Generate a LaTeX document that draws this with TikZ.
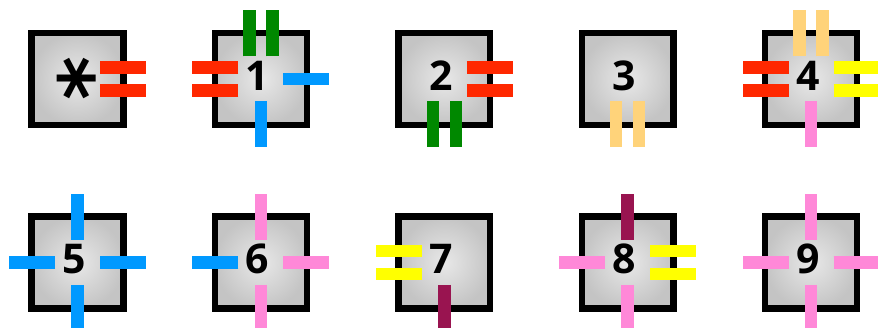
\documentclass[tikz,border=0pt]{standalone}
\usepackage{fontspec}
\setmainfont{Open Sans}
\newfontfamily\astfont{DejaVu Sans}
\usepackage{tikz}

\definecolor{cred}{RGB}{255,40,0}
\definecolor{cgreen}{RGB}{0,136,0}
\definecolor{cblue}{RGB}{0,153,255}
\definecolor{cpink}{RGB}{255,136,216}
\definecolor{cyellow}{RGB}{255,255,0}
\definecolor{corange}{RGB}{255,211,122}
\definecolor{cmaroon}{RGB}{153,20,80}

\begin{document}
\begin{tikzpicture}[x=1pt,y=1pt,every node/.style={font=\fontsize{41}{41}\selectfont\bfseries}]
\tikzset{cell/.style={rectangle,draw,line width=6.5pt,inner sep=0pt,minimum size=91.8pt,inner color=black!9,outer color=black!23},
  bar/.style={line width=12.5pt}}
\useasboundingbox (0,0) rectangle (878,328);

% ---------- top row ----------
\node[cell] (s) at (77.5,249) {};
\node[cell] (b1) at (260.9,249) {};
\node[cell] (b2) at (444.3,249) {};
\node[cell] (b3) at (627.7,249) {};
\node[cell] (b4) at (811.1,249) {};

\node[rotate=90] (ts) at (88,249.5) {\astfont\bfseries\fontsize{84}{84}\selectfont *};
\node (t1) at (257.6,252.5) {1};
\node (t2) at (441,252.5) {2};
\node (t3) at (624.4,252.5) {3};
\node (t4) at (807.8,252.5) {4};

% box *
\draw[bar,cred] ([xshift=22.5pt,yshift=11.5pt]s.center) -- ++(46,0);
\draw[bar,cred] ([xshift=22.5pt,yshift=-11.5pt]s.center) -- ++(46,0);

% box 1
\draw[bar,cgreen] ([xshift=-11.5pt,yshift=22.5pt]b1.center) -- ++(0,46);
\draw[bar,cgreen] ([xshift=11.5pt,yshift=22.5pt]b1.center) -- ++(0,46);
\draw[bar,cred] ([xshift=-22.5pt,yshift=11.5pt]b1.center) -- ++(-46,0);
\draw[bar,cred] ([xshift=-22.5pt,yshift=-11.5pt]b1.center) -- ++(-46,0);
\draw[bar,cblue] ([xshift=22.5pt]b1.center) -- ++(46,0);
\draw[bar,cblue] ([yshift=-22.5pt]b1.center) -- ++(0,-46);

% box 2
\draw[bar,cred] ([xshift=22.5pt,yshift=11.5pt]b2.center) -- ++(46,0);
\draw[bar,cred] ([xshift=22.5pt,yshift=-11.5pt]b2.center) -- ++(46,0);
\draw[bar,cgreen] ([xshift=-11.5pt,yshift=-22.5pt]b2.center) -- ++(0,-46);
\draw[bar,cgreen] ([xshift=11.5pt,yshift=-22.5pt]b2.center) -- ++(0,-46);

% box 3
\draw[bar,corange] ([xshift=-11.5pt,yshift=-22.5pt]b3.center) -- ++(0,-46);
\draw[bar,corange] ([xshift=11.5pt,yshift=-22.5pt]b3.center) -- ++(0,-46);

% box 4
\draw[bar,corange] ([xshift=-11.5pt,yshift=22.5pt]b4.center) -- ++(0,46);
\draw[bar,corange] ([xshift=11.5pt,yshift=22.5pt]b4.center) -- ++(0,46);
\draw[bar,cred] ([xshift=-22.5pt,yshift=11.5pt]b4.center) -- ++(-46,0);
\draw[bar,cred] ([xshift=-22.5pt,yshift=-11.5pt]b4.center) -- ++(-46,0);
\draw[bar,cyellow] ([xshift=22.5pt,yshift=11.5pt]b4.center) -- ++(46,0);
\draw[bar,cyellow] ([xshift=22.5pt,yshift=-11.5pt]b4.center) -- ++(46,0);
\draw[bar,cpink] ([yshift=-22.5pt]b4.center) -- ++(0,-46);

% ---------- bottom row ----------
\node[cell] (b5) at (77.5,65.5) {};
\node[cell] (b6) at (260.9,65.5) {};
\node[cell] (b7) at (444.3,65.5) {};
\node[cell] (b8) at (627.7,65.5) {};
\node[cell] (b9) at (811.1,65.5) {};

\node (t5) at (74.2,69) {5};
\node (t6) at (257.6,69) {6};
\node (t7) at (441,69) {7};
\node (t8) at (624.4,69) {8};
\node (t9) at (807.8,69) {9};

% box 5
\draw[bar,cblue] ([yshift=22.5pt]b5.center) -- ++(0,46);
\draw[bar,cblue] ([yshift=-22.5pt]b5.center) -- ++(0,-46);
\draw[bar,cblue] ([xshift=-22.5pt]b5.center) -- ++(-46,0);
\draw[bar,cblue] ([xshift=22.5pt]b5.center) -- ++(46,0);

% box 6
\draw[bar,cpink] ([yshift=22.5pt]b6.center) -- ++(0,46);
\draw[bar,cpink] ([yshift=-22.5pt]b6.center) -- ++(0,-46);
\draw[bar,cblue] ([xshift=-22.5pt]b6.center) -- ++(-46,0);
\draw[bar,cpink] ([xshift=22.5pt]b6.center) -- ++(46,0);

% box 7
\draw[bar,cyellow] ([xshift=-22.5pt,yshift=11.5pt]b7.center) -- ++(-46,0);
\draw[bar,cyellow] ([xshift=-22.5pt,yshift=-11.5pt]b7.center) -- ++(-46,0);
\draw[bar,cmaroon] ([yshift=-22.5pt]b7.center) -- ++(0,-46);

% box 8
\draw[bar,cmaroon] ([yshift=22.5pt]b8.center) -- ++(0,46);
\draw[bar,cpink] ([yshift=-22.5pt]b8.center) -- ++(0,-46);
\draw[bar,cpink] ([xshift=-22.5pt]b8.center) -- ++(-46,0);
\draw[bar,cyellow] ([xshift=22.5pt,yshift=11.5pt]b8.center) -- ++(46,0);
\draw[bar,cyellow] ([xshift=22.5pt,yshift=-11.5pt]b8.center) -- ++(46,0);

% box 9
\draw[bar,cpink] ([yshift=22.5pt]b9.center) -- ++(0,46);
\draw[bar,cpink] ([yshift=-22.5pt]b9.center) -- ++(0,-46);
\draw[bar,cpink] ([xshift=-22.5pt]b9.center) -- ++(-46,0);
\draw[bar,cpink] ([xshift=22.5pt]b9.center) -- ++(46,0);

\end{tikzpicture}
\end{document}
